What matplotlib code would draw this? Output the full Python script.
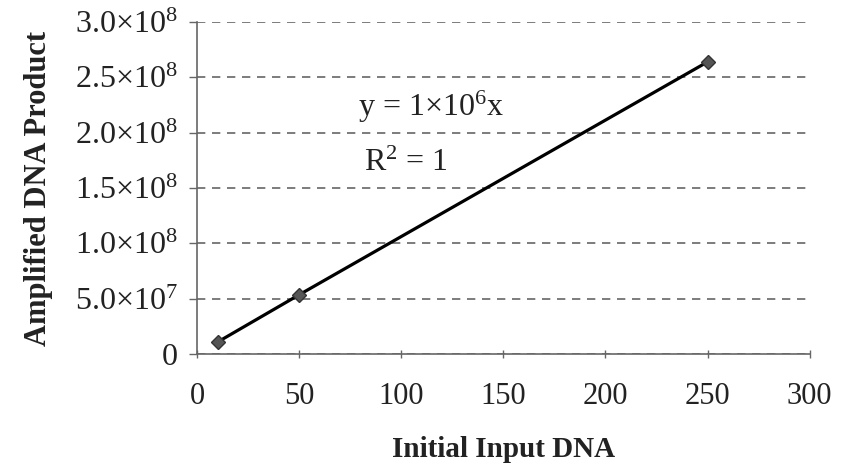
import matplotlib
matplotlib.use("Agg")
import matplotlib.pyplot as plt
from matplotlib.ticker import FixedLocator

plt.rcParams['font.family'] = ['Liberation Serif', 'DejaVu Serif']
plt.rcParams['mathtext.fontset'] = 'custom'
plt.rcParams['mathtext.rm'] = 'Liberation Serif'
plt.rcParams['mathtext.it'] = 'Liberation Serif:italic'
plt.rcParams['mathtext.bf'] = 'Liberation Serif:bold'

input_dna = [10, 50, 250]
product = [1.07e7, 5.35e7, 2.64e8]
x_ticks = [0, 50, 100, 150, 200, 250, 300]
y_ticks = [0, 5e7, 1e8, 1.5e8, 2e8, 2.5e8, 3e8]
y_tick_labels = ['0', r'$5.0{\times}10^{7}$', r'$1.0{\times}10^{8}$', r'$1.5{\times}10^{8}$',
                 r'$2.0{\times}10^{8}$', r'$2.5{\times}10^{8}$', r'$3.0{\times}10^{8}$']

fig = plt.figure(figsize=(8.46, 4.70), dpi=100)
ax = fig.add_axes([0.233, 0.247, 0.724, 0.706])

ax.plot(input_dna, product, color='black', lw=2.3, marker='D', markersize=7,
        markerfacecolor='#555555', markeredgecolor='#333333', zorder=3)

ax.set_xlim(0, 300)
ax.set_ylim(0, 3e8)
ax.xaxis.set_major_locator(FixedLocator(x_ticks))
ax.yaxis.set_major_locator(FixedLocator(y_ticks))
ax.set_yticklabels(y_tick_labels)
ax.set_xticklabels([str(t) for t in x_ticks])

ax.grid(axis='y', linestyle=(0, (5, 4)), color='#666666', lw=1.2)
ax.set_axisbelow(True)
for s in ['top', 'right']:
    ax.spines[s].set_visible(False)
for s in ['left', 'bottom']:
    ax.spines[s].set_color('#666666')
    ax.spines[s].set_linewidth(1.2)

ax.tick_params(axis='both', colors='#666666', labelcolor='#222222',
               length=6, width=1.0)
ax.tick_params(axis='x', direction='inout', pad=17, labelsize=22)
ax.tick_params(axis='y', direction='out', pad=8, labelsize=23)

ax.set_xlabel('Initial Input DNA', fontsize=21, fontweight='bold', labelpad=18, color='#222222')
ax.set_ylabel('Amplified DNA Product', fontsize=22, fontweight='bold', labelpad=16, color='#222222')

ax.text(79, 2.15e8, r'y = 1$\times$10$^{6}$x', fontsize=23, color='#222222', va='baseline')
ax.text(81.5, 1.655e8, r'R$^{2}$ = 1', fontsize=23, color='#222222', va='baseline')

fig.savefig('out.png', dpi=100)
